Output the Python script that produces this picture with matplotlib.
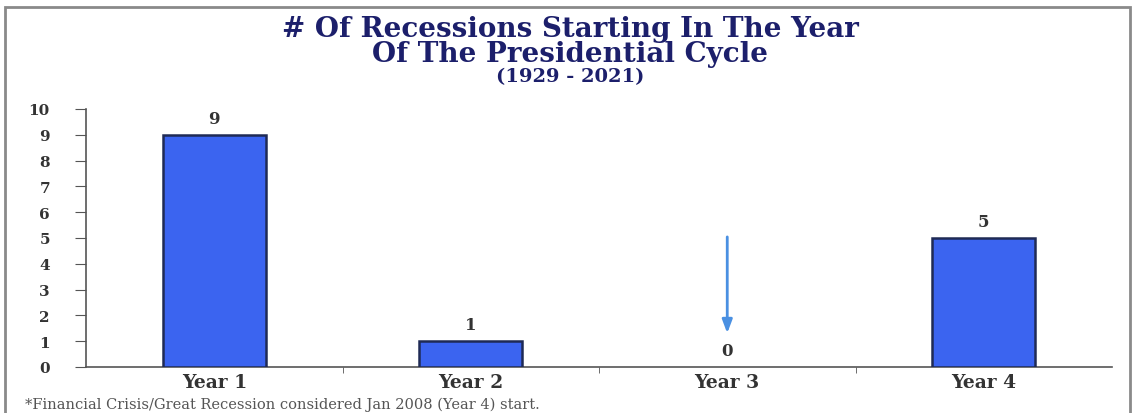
import matplotlib.pyplot as plt
from matplotlib.patches import Rectangle

years = ['Year 1', 'Year 2', 'Year 3', 'Year 4']
recessions = [9, 1, 0, 5]
yticks = list(range(0, 11))

serif = ['DejaVu Serif']
navy = '#1c1f6b'
bar_blue = '#3b64f0'
label_grey = '#333333'

fig = plt.figure(figsize=(11.4, 4.14), dpi=100)
fig.patch.set_facecolor('white')

# grey frame around the whole panel
fig.patches.append(Rectangle((5 / 1140, -0.05), 1125 / 1140, 1.05 - 8 / 414,
                             transform=fig.transFigure, fill=False,
                             edgecolor='#8a8a8a', linewidth=2))

ax = fig.add_axes([86 / 1140, 1 - 368 / 414, 1026 / 1140, 258 / 414])
x = list(range(len(years)))
bars = ax.bar(x, recessions, width=0.40, color=bar_blue,
              edgecolor='#1f2a55', linewidth=1.8, zorder=3)
for b, v in zip(bars, recessions):
    if v == 0:
        b.set_linewidth(0)

for xi, v in zip(x, recessions):
    ax.text(xi, v + 0.3, str(v), ha='center', va='bottom',
            fontsize=12, fontweight='bold', family=serif, color=label_grey)

# arrow pointing down to Year 3
ax.annotate('', xy=(2, 1.2), xytext=(2, 5.15),
            arrowprops=dict(arrowstyle='-|>,head_length=0.8,head_width=0.3',
                            color='#4a90e2', lw=2))

ax.set_xlim(-0.5, 3.5)
ax.set_ylim(0, 10)
ax.set_yticks(yticks)
ax.set_yticklabels([str(t) for t in yticks], fontsize=11, fontweight='bold',
                   family=serif, color=label_grey)
ax.set_xticks(x)
ax.set_xticklabels(years, fontsize=13.5, fontweight='bold', family=serif,
                   color=label_grey)
ax.set_xticks([0.5, 1.5, 2.5], minor=True)
ax.tick_params(axis='x', which='major', length=0, pad=4)
ax.tick_params(axis='x', which='minor', length=4, direction='out', color='#555555')
ax.tick_params(axis='y', length=8, direction='out', color='#555555', pad=18)
for side in ['top', 'right']:
    ax.spines[side].set_visible(False)
for side in ['left', 'bottom']:
    ax.spines[side].set_color('#555555')
    ax.spines[side].set_linewidth(1.2)

# two-line title drawn as one block so the lines sit tight together
fig.text(0.5, 1 - 42 / 414,
         '# Of Recessions Starting In The Year\nOf The Presidential Cycle',
         ha='center', va='center', ma='center', linespacing=0.95,
         fontsize=20, fontweight='bold', family=serif, color=navy)
fig.text(0.5, 1 - 77 / 414, '(1929 - 2021)', ha='center',
         va='center', fontsize=14, fontweight='bold', family=serif, color=navy)

fig.text(25 / 1140, 1 - 405 / 414,
         '*Financial Crisis/Great Recession considered Jan 2008 (Year 4) start.',
         ha='left', va='center', fontsize=10.5, family=serif, color='#555555')

fig.savefig('out.png', dpi=100)
